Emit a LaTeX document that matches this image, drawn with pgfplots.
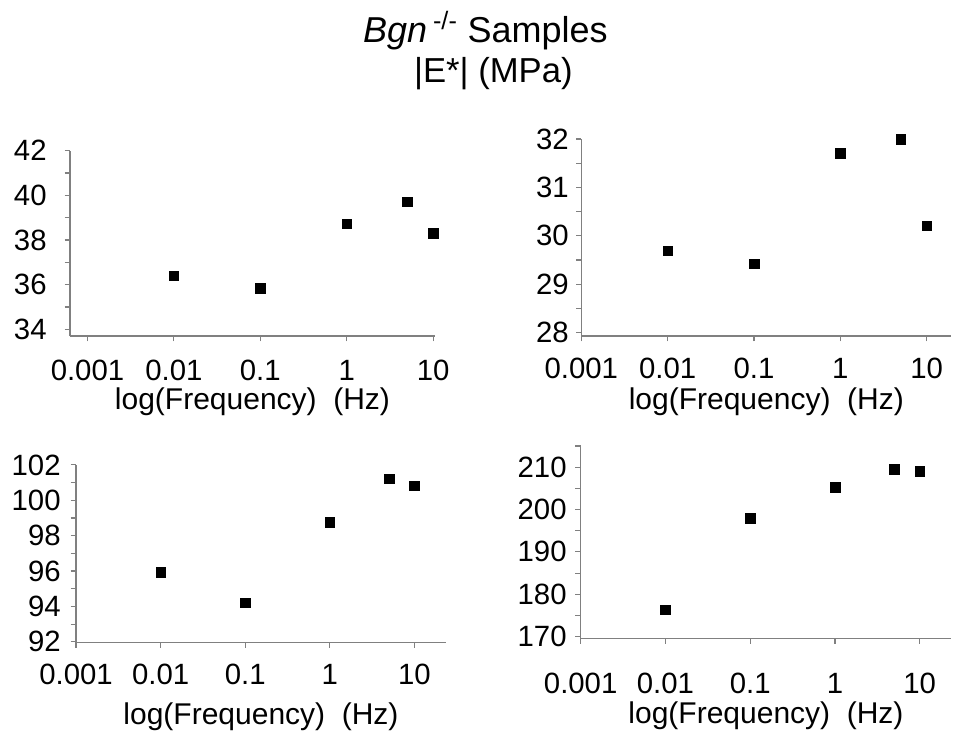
\documentclass[border=0pt]{standalone}
\usepackage{fontspec}
\setmainfont{Liberation Sans}
\usepackage{pgfplots}
\pgfplotsset{compat=1.18}
\pgfplotsset{
  /pgfplots/panel/.style={
    scale only axis, anchor=south west,
    axis x line=bottom, axis y line=left,
    axis line style={-, draw=black!50, line width=0.8pt},
    every tick/.style={draw=black!50, line width=0.8pt},
    tick align=outside,
    major tick length=4pt, minor tick length=4pt,
    xtick={0.001,0.01,0.1,1,10},
    xticklabels={0.001,0.01,0.1,1,10},
    xminorticks=false,
    ticklabel style={font=\fontsize{22}{26}\selectfont},
    /pgf/number format/assume math mode=true,
    xlabel={log(Frequency)\ \ (Hz)},
    every axis x label/.style={at={(axis description cs:0.5,0)}, anchor=center,
      font=\fontsize{22.5}{27}\selectfont},
    clip=false,
  },
}
\begin{document}
\begin{tikzpicture}
\useasboundingbox (0,0) rectangle (717pt,-554.25pt);
\begin{semilogxaxis}[panel, at={(52.5pt,-252pt)}, width=273.75pt, height=139pt,
  xmin=0.000628, xmax=10.5, ymin=33.7, ymax=42,
  ytick={34,36,...,42}, minor ytick={35,37,39,41},
  xticklabel style={anchor=center, yshift=-22pt},
  yticklabel style={anchor=east, xshift=-10pt},
  xlabel style={yshift=-49.5pt}]
\addplot[only marks, mark=square*, mark size=3.6pt, black]
  coordinates {(0.01,36.40)(0.1,35.84)(1,38.73)(5,39.72)(10,38.30)};
\end{semilogxaxis}
\begin{semilogxaxis}[panel, at={(436pt,-252pt)}, width=277.5pt, height=147.75pt,
  xmin=0.001, xmax=19.3, ymin=27.93, ymax=32,
  ytick={28,...,32}, minor ytick={28.5,29.5,30.5,31.5},
  xticklabel style={anchor=center, yshift=-20pt},
  yticklabel style={anchor=east, xshift=-2pt},
  xlabel style={yshift=-49.5pt}]
\addplot[only marks, mark=square*, mark size=3.6pt, black]
  coordinates {(0.01,29.69)(0.1,29.42)(1,31.70)(5,31.99)(10,30.21)};
\end{semilogxaxis}
\begin{semilogxaxis}[panel, at={(57pt,-481.7pt)}, width=277.5pt, height=133pt,
  xmin=0.001, xmax=23.6, ymin=91.97, ymax=102,
  ytick={92,94,...,102}, minor ytick={93,95,...,101},
  xticklabel style={anchor=center, yshift=-20pt},
  yticklabel style={anchor=east, xshift=-4pt},
  xlabel style={yshift=-55.5pt}]
\addplot[only marks, mark=square*, mark size=3.6pt, black]
  coordinates {(0.01,95.94)(0.1,94.21)(1,98.75)(5,101.21)(10,100.83)};
\end{semilogxaxis}
\begin{semilogxaxis}[panel, at={(435.5pt,-478.7pt)}, width=278pt, height=144.2pt,
  xmin=0.001, xmax=23.6, ymin=169.6, ymax=215,
  ytick={170,180,...,210}, minor ytick={175,185,...,215},
  xticklabel style={anchor=center, yshift=-30pt},
  yticklabel style={anchor=east, xshift=-3pt},
  xlabel style={yshift=-57.75pt}]
\addplot[only marks, mark=square*, mark size=3.6pt, black]
  coordinates {(0.01,176.3)(0.1,197.9)(1,205.2)(5,209.5)(10,209.1)};
\end{semilogxaxis}
\node[anchor=base, font=\fontsize{27}{31}\selectfont] at (364pt,-31.5pt)
  {\textit{Bgn}\,\textsuperscript{-/-} Samples};
\node[anchor=base, font=\fontsize{26}{30}\selectfont] at (370pt,-62pt) {|E*| (MPa)};
\end{tikzpicture}
\end{document}
